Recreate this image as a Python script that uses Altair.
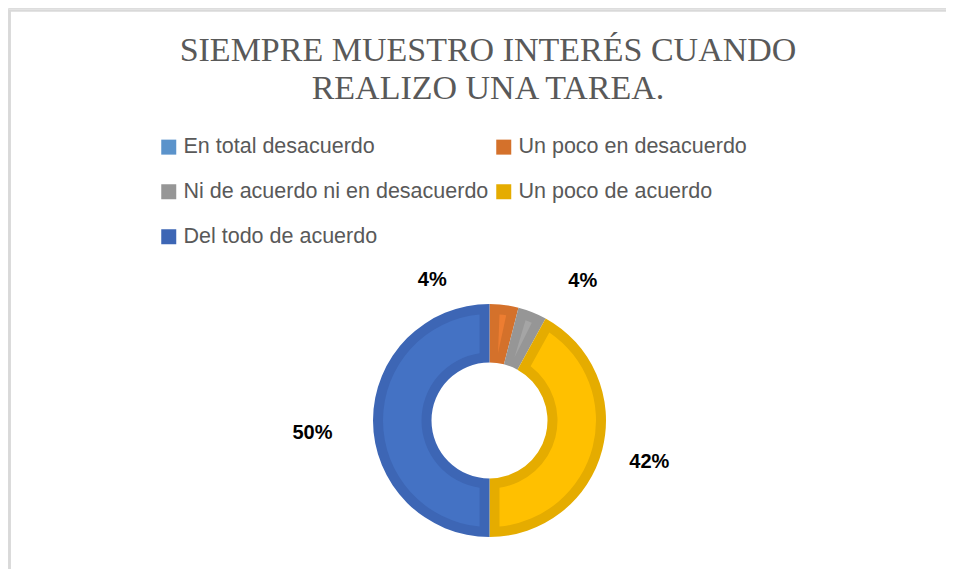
import altair as alt
import pandas as pd

categories = ["En total desacuerdo", "Un poco en desacuerdo", "Ni de acuerdo ni en desacuerdo",
              "Un poco de acuerdo", "Del todo de acuerdo"]
values = [0, 4, 4, 42, 50]
dark_colors = ["#5B93CB", "#D4712B", "#969696", "#E5AC00", "#3D66B5"]
light_colors = ["#5B9BD5", "#ED7D31", "#A5A5A5", "#FFC000", "#4472C4"]
# legend fills column by column: this order gives rows of two as in the reference
legend_order = [0, 2, 4, 1, 3]

leg_domain = [categories[i] for i in legend_order]
leg_dark = [dark_colors[i] for i in legend_order]
leg_light = [light_colors[i] for i in legend_order]

df = pd.DataFrame({"cat": categories, "value": values, "idx": list(range(len(categories)))})

W, H = 938, 561
CX, CY = 481.5, 412.5

theta = alt.Theta("value:Q", stack=True)
order = alt.Order("idx:Q")

base = alt.Chart(df)

ring = base.mark_arc(innerRadius=58, outerRadius=116.5).encode(
    theta=theta, order=order,
    x=alt.value(CX), y=alt.value(CY),
    fill=alt.Fill("cat:N", sort=leg_domain,
                  scale=alt.Scale(domain=leg_domain, range=leg_dark),
                  legend=alt.Legend(title=None, orient="none", legendX=150, legendY=128,
                                    columns=2, columnPadding=4, rowPadding=22,
                                    symbolType="square", symbolSize=225, symbolStrokeWidth=0,
                                    labelFont="Liberation Sans", labelFontSize=21.5,
                                    labelColor="#595959", labelOffset=4, labelLimit=400)),
)

inner = base.mark_arc(innerRadius=68, outerRadius=106.5, padAngle=0.158).encode(
    theta=theta, order=order,
    x=alt.value(CX), y=alt.value(CY),
    fill=alt.Fill("cat:N", sort=leg_domain,
                  scale=alt.Scale(domain=leg_domain, range=leg_light), legend=None),
)

lab_base = base.transform_calculate(lab="datum.value + '%'")
txt_style = dict(font="Liberation Sans", fontSize=20, fontWeight="bold", color="#000000")


def label_layer(i, **kw):
    return lab_base.mark_text(**kw, **txt_style).encode(
        theta=theta, order=order, x=alt.value(CX), y=alt.value(CY), text="lab:N",
        opacity=alt.condition(f"datum.idx == {i}", alt.value(1), alt.value(0)),
    )


labels_o = label_layer(1, radius=142, dx=-75)
labels_g = label_layer(2, radius=150, dx=38)
labels_y = label_layer(3, radius=165)
labels_b = label_layer(4, radius=177, dy=12)

frame_top = alt.Chart(df).mark_rule(color="#d9d9d9", strokeWidth=1.5).encode(
    x=alt.value(1), x2=alt.value(W), y=alt.value(2.5))
frame_left = alt.Chart(df).mark_rule(color="#d9d9d9", strokeWidth=2).encode(
    x=alt.value(1.5), y=alt.value(2), y2=alt.value(H))

chart = alt.layer(frame_top, frame_left, ring, inner,
                  labels_o, labels_g, labels_y, labels_b).resolve_scale(
    fill="independent"
).properties(
    width=W, height=H,
    autosize=alt.AutoSizeParams(type="none"),
    padding=0,
    title=alt.TitleParams(
        text=["SIEMPRE MUESTRO INTERÉS CUANDO", "REALIZO UNA TAREA."],
        font="Liberation Serif", fontSize=34, fontWeight="normal", color="#595959",
        anchor="middle", orient="top", offset=-125, baseline="alphabetic", lineHeight=38, dx=11,
    ),
).configure_view(stroke=None).configure(background="white")

chart.save("out.html", embed_options={"renderer": "svg", "actions": False})
